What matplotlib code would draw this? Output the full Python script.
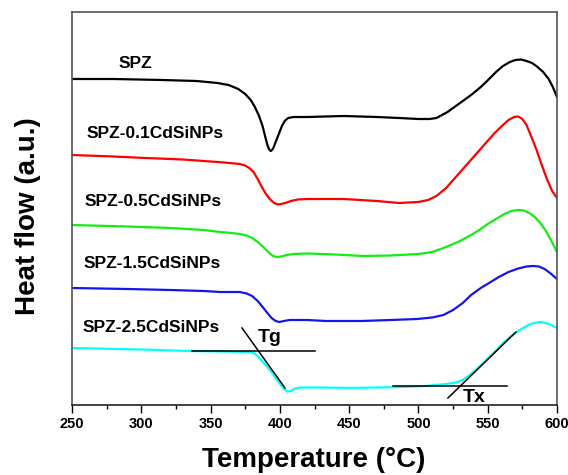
import numpy as np
import matplotlib
matplotlib.use("Agg")
import matplotlib.pyplot as plt
from matplotlib.ticker import MultipleLocator

plt.rcParams['font.family'] = ['Liberation Sans', 'DejaVu Sans']
plt.rcParams['font.weight'] = 'bold'

# --- DSC curves (temperature in degC, heat flow in arbitrary units, stacked) ---
t_spz = [250, 280, 315, 340, 355, 363, 370, 375, 379, 382, 385, 387.5, 389.5, 391,
         392.5, 393.5, 395, 397, 399.5, 401.5, 403.5, 406, 410, 420, 446, 470, 486,
         500, 508, 513, 517, 521, 525, 530, 538, 545, 551, 556, 561, 566, 570, 574,
         578, 582, 586, 590, 594, 597, 600]
h_spz = [326, 326, 325, 324, 322, 320, 316, 311, 305, 298, 289, 279, 268, 260,
         255, 254, 256, 263, 272, 279, 284, 287, 288, 288, 289, 288, 287,
         286, 286, 287, 290, 293, 297, 302, 310, 318, 326, 333, 339, 343, 345, 345.5,
         344, 342, 338, 333, 326, 318, 308]

t_01 = [250, 280, 303, 330, 345, 360, 371, 375, 378, 381, 384, 387, 390, 393, 396,
        398.5, 401, 404, 408, 413, 420, 446, 470, 486, 500, 507, 513, 520, 527, 534,
        541, 548, 555, 561, 565, 569, 572, 575, 578, 581, 585, 589, 593, 596.5, 600]
h_01 = [250, 248.5, 247, 245.5, 244, 242.5, 241, 239.5, 237, 233, 226, 218, 211, 205.5, 202,
        200.5, 201, 202, 204, 205.5, 206, 206, 204, 202, 203, 205, 209, 217, 228, 239,
        250, 261, 272, 280, 285, 288, 288.5, 286, 280, 270, 256, 240, 225, 214, 207]

t_05 = [250, 290, 321, 345, 357, 365, 371, 376, 380, 384, 388, 392, 395, 398, 401,
        405, 410, 420, 440, 460, 480, 500, 510, 520, 530, 538, 545, 550, 556, 562,
        567, 572, 576, 580, 584, 588, 592, 596, 600]
h_05 = [180, 178.5, 177, 175, 173, 172, 171, 169.5, 167, 163, 158, 152.5, 149, 148, 148.5,
        150, 151, 151.5, 150.5, 149, 149.5, 151, 153, 158, 164, 170, 176, 181, 186, 191,
        194, 195, 194.5, 192, 188, 182, 174, 164, 153]

t_15 = [250, 290, 321, 345, 357, 371, 376, 380, 384, 387, 391, 394, 397, 399.5, 403,
        407, 420, 433, 459, 480, 499, 510, 518, 525, 532, 538, 545, 551, 558, 565,
        572, 578, 583, 587, 591, 595, 600]
h_15 = [117, 116, 115, 114, 113, 113, 111.5, 109, 104, 99, 92, 87, 84, 83, 84,
        85, 85, 84, 84, 85, 86, 87.5, 90, 95, 102, 110, 117, 122, 128, 133,
        136.5, 138.5, 139, 138.5, 136, 132, 126]

t_25 = [250, 300, 335, 360, 378, 381, 384, 387, 391, 394.5, 398, 401, 403.5, 405.5,
        408, 411, 415, 430, 450, 470, 489, 505, 520, 527, 532, 537, 543, 549, 555,
        561, 567, 573, 578, 583, 588, 592, 596, 600]
h_25 = [57, 55.5, 54, 53.5, 53, 52, 49, 44, 38, 32, 25, 19.5, 15.5, 13.5,
        14, 16.5, 17.5, 17.5, 17, 17.5, 18, 19, 21, 22.5, 25, 30, 37, 45, 53,
        62, 69, 75, 79, 82, 83, 82, 80, 77]

series_names = ['SPZ', 'SPZ-0.1CdSiNPs', 'SPZ-0.5CdSiNPs', 'SPZ-1.5CdSiNPs', 'SPZ-2.5CdSiNPs']
series_colors = ['black', '#ff0000', '#11ee11', '#1515ee', '#00ffff']
label_x = [283.9, 260.8, 259.4, 258.7, 257.9]
label_y = [342, 272, 203, 141, 78]

# tangent construction lines for Tg and Tx
tg_flat_x, tg_flat_y = [336.6, 425.4], [54, 54]
tg_slope_x, tg_slope_y = [372.7, 403.7], [77, 17]
tx_flat_x, tx_flat_y = [481.6, 563.9], [19, 19]
tx_slope_x, tx_slope_y = [521.3, 570.4], [7, 73]

x_ticks = [250, 300, 350, 400, 450, 500, 550, 600]

fig = plt.figure(figsize=(5.68, 4.75), dpi=100)
ax = fig.add_axes([72/568, 70/475, 485/568, 393/475])

curves = [(t_spz, h_spz), (t_01, h_01), (t_05, h_05), (t_15, h_15), (t_25, h_25)]
for (t, h), c in zip(curves, series_colors):
    ax.plot(t, h, color=c, lw=1.6, solid_joinstyle='round')

for name, lx, ly in zip(series_names, label_x, label_y):
    ax.text(lx, ly, name, fontsize=12.5, fontweight='bold', ha='left', va='center')

ax.plot(tg_flat_x, tg_flat_y, color='black', lw=1.1)
ax.plot(tg_slope_x, tg_slope_y, color='black', lw=1.1)
ax.plot(tx_flat_x, tx_flat_y, color='black', lw=1.1)
ax.plot(tx_slope_x, tx_slope_y, color='black', lw=1.1)
ax.text(392.9, 67, 'Tg', fontsize=14, fontweight='bold', ha='center', va='center')
ax.text(540.1, 8, 'Tx', fontsize=14, fontweight='bold', ha='center', va='center')

ax.set_xlim(250, 600)
ax.set_ylim(0, 393)
ax.set_xticks(x_ticks)
ax.xaxis.set_minor_locator(MultipleLocator(25))
ax.set_yticks([])
ax.tick_params(axis='x', which='major', direction='out', length=5.5, width=1,
               labelsize=10.5, pad=3.5, top=False)
ax.tick_params(axis='x', which='minor', direction='out', length=3, width=1, top=False)
for lab in ax.get_xticklabels():
    lab.set_fontweight('bold')
for s in ax.spines.values():
    s.set_color('#555555')
    s.set_linewidth(1.2)
ax.spines['bottom'].set_color('#222222')

ax.set_xlabel('Temperature (°C)', fontsize=20, fontweight='bold', va='center')
ax.xaxis.set_label_coords(0.499, -0.14)
ax.set_ylabel('Heat flow (a.u.)', fontsize=20, fontweight='bold', va='center')
ax.yaxis.set_label_coords(-0.0907, 0.481)

fig.savefig('out.png', dpi=100)
